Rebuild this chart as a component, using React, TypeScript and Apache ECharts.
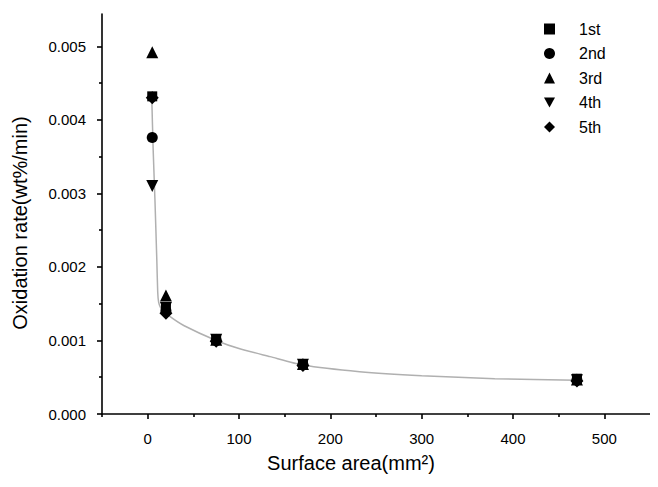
import React, { useEffect, useRef } from "react";
import * as echarts from "echarts";

const seriesNames = ["1st", "2nd", "3rd", "4th", "5th"];
const surfaceArea = [5, 20, 75, 170, 470];
const rate1st = [0.00432, 0.00145, 0.00102, 0.00067, 0.00048];
const rate2nd = [0.00376, 0.0014, 0.001, 0.00067, 0.00046];
const rate3rd = [0.00492, 0.00161, 0.00101, 0.00068, 0.00047];
const rate4th = [0.0031, 0.00144, 0.00101, 0.00067, 0.00046];
const rate5th = [0.0043, 0.00137, 0.00099, 0.00066, 0.00045];

const fitX = [4.5, 6, 8, 10, 11, 12, 14, 17, 25, 40, 75, 100, 134, 170, 232, 300, 380, 470];
const fitY = [0.0043, 0.0036, 0.0029, 0.0021, 0.00166, 0.00152, 0.00145, 0.00141, 0.00132, 0.0012, 0.001, 0.00089, 0.00078, 0.000665, 0.000575, 0.00052, 0.00048, 0.00046];

const xMajor = [0, 100, 200, 300, 400, 500];
const xMinor = [-50, 50, 150, 250, 350, 450];
const yMajor = [0, 0.001, 0.002, 0.003, 0.004, 0.005];
const yMinor = [0.0005, 0.0015, 0.0025, 0.0035, 0.0045];

const FONT = "Liberation Sans";

export default function App() {
  const ref = useRef<HTMLDivElement>(null);
  useEffect(() => {
    if (!ref.current) return;
    const chart = echarts.init(ref.current, undefined, { renderer: "svg" });
    const rates = [rate1st, rate2nd, rate3rd, rate4th, rate5th];
    const symbols = [
      { s: "rect", size: 10 },
      { s: "circle", size: 11 },
      { s: "triangle", size: 12 },
      { s: "path://M0,0 L10,0 L5,9 Z", size: 12 },
      { s: "diamond", size: 13 },
    ];
    const axisLineStyle = { color: "#000", width: 1.6 };
    chart.setOption({
      animation: false,
      backgroundColor: "#fff",
      grid: { left: 102, right: 8, top: 14, bottom: 73 },
      legend: {
        orient: "vertical",
        left: 539,
        top: 16,
        itemWidth: 11,
        itemHeight: 11,
        itemGap: 8.5,
        data: seriesNames,
        itemStyle: { opacity: 1 },
        textStyle: { fontFamily: FONT, fontSize: 16, color: "#000", padding: [0, 0, 0, 19] },
      },
      xAxis: [
        {
          type: "value",
          min: -50,
          max: 550,
          axisLine: { show: true, onZero: false, lineStyle: axisLineStyle },
          axisTick: { show: true, length: 5, lineStyle: axisLineStyle, customValues: xMajor },
          axisLabel: { customValues: xMajor, fontFamily: FONT, fontSize: 15, color: "#000", margin: 17 },
          splitLine: { show: false },
        },
        {
          type: "value",
          min: -50,
          max: 550,
          position: "bottom",
          axisLine: { show: false, onZero: false },
          axisTick: { show: true, length: 3, lineStyle: axisLineStyle, customValues: xMinor },
          axisLabel: { show: false },
          splitLine: { show: false },
        },
      ],
      yAxis: [
        {
          type: "value",
          min: 0,
          max: 0.00544,
          axisLine: { show: true, onZero: false, lineStyle: axisLineStyle },
          axisTick: { show: true, length: 5, lineStyle: axisLineStyle, customValues: yMajor },
          axisLabel: {
            customValues: yMajor,
            formatter: (v: number) => v.toFixed(3),
            fontFamily: FONT,
            fontSize: 15,
            color: "#000",
            margin: 16,
          },
          splitLine: { show: false },
        },
        {
          type: "value",
          min: 0,
          max: 0.00544,
          position: "left",
          axisLine: { show: false, onZero: false },
          axisTick: { show: true, length: 3, lineStyle: axisLineStyle, customValues: yMinor },
          axisLabel: { show: false },
          splitLine: { show: false },
        },
      ],
      graphic: [
        {
          type: "text",
          x: 351,
          y: 463,
          style: {
            text: "Surface area(mm²)",
            font: `20px '${FONT}'`,
            fill: "#000",
            align: "center",
            verticalAlign: "middle",
          },
        },
        {
          type: "text",
          x: 20,
          y: 223,
          rotation: Math.PI / 2,
          style: {
            text: "Oxidation rate(wt%/min)",
            font: `20px '${FONT}'`,
            fill: "#000",
            align: "center",
            verticalAlign: "middle",
          },
        },
      ],
      series: [
        {
          name: "fit",
          type: "line",
          xAxisIndex: 0,
          yAxisIndex: 0,
          data: fitX.map((x, i) => [x, fitY[i]]),
          showSymbol: false,
          symbol: "none",
          smooth: 0.2,
          lineStyle: { color: "#b0b0b0", width: 1.5 },
          z: 1,
          silent: true,
        },
        ...seriesNames.map((name, k) => ({
          name,
          type: "scatter",
          xAxisIndex: 0,
          yAxisIndex: 0,
          data: surfaceArea.map((x, i) => [x, rates[k][i]]),
          symbol: symbols[k].s,
          symbolSize: symbols[k].size,
          itemStyle: { color: "#000", opacity: 1 },
          z: 3,
        })),
      ],
    });
    return () => chart.dispose();
  }, []);
  return <div ref={ref} style={{ width: 658, height: 487, margin: -8 }} />;
}
